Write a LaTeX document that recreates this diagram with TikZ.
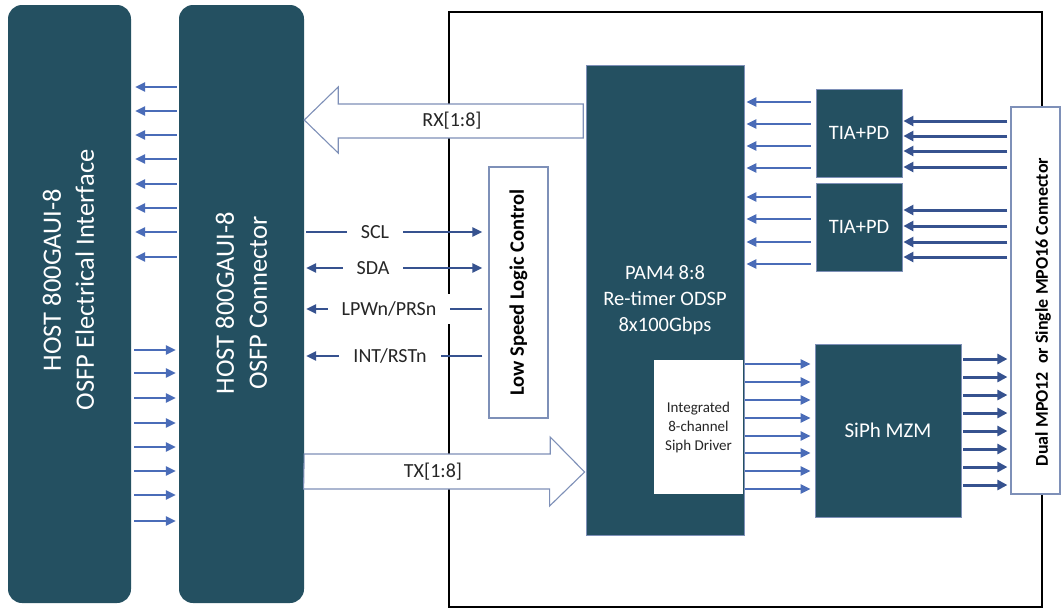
\documentclass[tikz,border=0pt]{standalone}
\usepackage{fontspec}
\setmainfont{Carlito}
\usetikzlibrary{arrows.meta}
\definecolor{blk}{HTML}{245061}
\definecolor{arr}{HTML}{4A6CB8}
\definecolor{arrd}{HTML}{36528F}
\definecolor{edge}{HTML}{7E90B8}
\begin{document}
\begin{tikzpicture}[x=1pt,y=-1pt,
  ctltip/.tip={Triangle[length=10pt,width=9pt]},
  hostblk/.style={fill=blk, rounded corners=14pt, inner sep=0pt},
  hosttxt/.style={text=white, rotate=90, align=center, inner sep=0pt,
    font=\fontsize{26.5}{33}\selectfont},
  darkblk/.style={fill=blk, draw=edge, line width=0.8pt, inner sep=0pt, text=white, align=center,
    font=\fontsize{20.5}{26}\selectfont},
  whiteblk/.style={fill=white, draw=edge, line width=1.2pt, inner sep=0pt, align=center},
  sarr/.style={draw=arr, line width=2.3pt, -{Triangle[length=10pt,width=9pt]}},
  darr/.style={draw=arrd, line width=3pt, -{Triangle[length=10pt,width=10pt]}},
  ctl/.style={draw=arrd, line width=2.3pt},
  lbl/.style={fill=white, inner xsep=14pt, inner ysep=8pt, font=\fontsize{20}{24}\selectfont, text=black!85},
  bigarrow/.style={draw=edge, fill=white, line width=1.1pt, line join=miter}
]
\useasboundingbox (0,0) rectangle (1062,611);
\fill[white] (0,0) rectangle (1062,611);

% frame
\draw[black, line width=2.2pt] (449,12) rectangle (1042,607);

% host blocks
\node[hostblk, minimum width=123pt, minimum height=598pt] (host) at (69.5,304) {};
\node[hosttxt] (hosttext) at (68.5,280) {HOST 800GAUI-8\\OSFP Electrical Interface};
\node[hostblk, minimum width=125pt, minimum height=598pt] (conn) at (241.5,304) {};
\node[hosttxt] (conntext) at (241.5,303) {HOST 800GAUI-8\\OSFP Connector};

% right-side blocks
\node[darkblk, minimum width=158pt, minimum height=470pt] (pam) at (665,300)
  {PAM4 8:8\\Re-timer ODSP\\8x100Gbps};
\node[fill=white, inner sep=0pt, minimum width=89pt, minimum height=134pt, align=center,
  font=\fontsize{15}{19}\selectfont, text=black!85] (drv) at (698.5,427)
  {Integrated\\8-channel\\Siph Driver};
\node[darkblk, minimum width=86pt, minimum height=88pt] (tia1) at (859,133) {TIA+PD};
\node[darkblk, minimum width=86pt, minimum height=88pt] (tia2) at (859,227) {TIA+PD};
\node[darkblk, minimum width=146pt, minimum height=173pt, font=\fontsize{21}{26}\selectfont] (mzm) at (888,430.5) {SiPh MZM};
\node[whiteblk, minimum width=49pt, minimum height=387pt] (mpo) at (1035.5,300.5) {};
\node[rotate=90, font=\bfseries\fontsize{18}{22}\selectfont] (mpotxt) at (1043,312)
  {Dual MPO12\ \ or Single MPO16 Connector};
\node[whiteblk, minimum width=59pt, minimum height=251pt] (lsl) at (518.5,292.5) {};
\node[rotate=90, font=\bfseries\fontsize{20.5}{24}\selectfont] (lsltxt) at (lsl.center) {Low Speed Logic Control};

% host <-> connector small arrows
\foreach \y in {87,111,135,159,184,208,232,257}{
  \coordinate (yy) at (0,\y);
  \draw[sarr, shorten >=4pt, shorten <=2pt] (conn.west |- yy) -- (host.east |- yy);
}
\foreach \y in {350,373,398,423,447,471,495,521}{
  \coordinate (yy) at (0,\y);
  \draw[sarr, shorten >=3pt, shorten <=3pt] (host.east |- yy) -- (conn.west |- yy);
}

% TIA -> PAM4
\foreach \y in {102,124,146,168}{
  \coordinate (yy) at (0,\y);
  \draw[sarr, shorten >=2pt, shorten <=5pt] (tia1.west |- yy) -- (pam.east |- yy);
}
\foreach \y in {197,219,242,264}{
  \coordinate (yy) at (0,\y);
  \draw[sarr, shorten >=2pt, shorten <=5pt] (tia2.west |- yy) -- (pam.east |- yy);
}
% MPO -> TIA
\foreach \y in {121,136,151,167}{
  \coordinate (yy) at (0,\y);
  \draw[darr, shorten >=1pt, shorten <=3pt] (mpo.west |- yy) -- (tia1.east |- yy);
}
\foreach \y in {210,226,242,257}{
  \coordinate (yy) at (0,\y);
  \draw[darr, shorten >=1pt, shorten <=3pt] (mpo.west |- yy) -- (tia2.east |- yy);
}
% driver -> MZM
\foreach \y in {364,382,400,418,436,453,471,489}{
  \coordinate (yy) at (0,\y);
  \draw[sarr, shorten >=4pt, shorten <=2pt] (drv.east |- yy) -- (mzm.west |- yy);
}
% MZM -> MPO
\foreach \y in {359,377,395,413,431,449,467,485}{
  \coordinate (yy) at (0,\y);
  \draw[darr, shorten >=3pt, shorten <=2pt] (mzm.east |- yy) -- (mpo.west |- yy);
}

% low speed control lines
\coordinate (ySCL) at (0,232);
\coordinate (ySDA) at (0,268);
\coordinate (yLPW) at (0,309);
\coordinate (yINT) at (0,356);
\draw[ctl, -{ctltip}, shorten <=2pt, shorten >=6pt] (conn.east |- ySCL) -- (lsl.west |- ySCL);
\draw[ctl, {ctltip}-{ctltip}, shorten <=2pt, shorten >=6pt] (conn.east |- ySDA) -- (lsl.west |- ySDA);
\draw[ctl, -{ctltip}, shorten <=6pt, shorten >=2pt] (lsl.west |- yLPW) -- (conn.east |- yLPW);
\draw[ctl, -{ctltip}, shorten <=6pt, shorten >=2pt] (lsl.west |- yINT) -- (conn.east |- yINT);
\node[lbl] (scl) at (375,232) {SCL};
\node[lbl] (sda) at (373,268) {SDA};
\node[lbl] (lpw) at (389,309) {LPWn/PRSn};
\node[lbl] (int) at (390,356) {INT/RSTn};

% big RX / TX arrows
\coordinate (yRX) at (0,120);
\coordinate (yTX) at (0,472);
\draw[bigarrow] (conn.east |- yRX) -- ++(34,-33) -- ++(0,17) -- ++(245,0) -- ++(0,34) -- ++(-245,0) -- ++(0,15) -- cycle;
\node[font=\fontsize{20}{24}\selectfont, text=black!85] (rx) at (452,121) {RX[1:8]};
\draw[bigarrow] (conn.east |- yTX) ++(0,-18) -- ++(246,0) -- ++(0,-17) -- ([xshift=-1pt]pam.west |- yTX) -- ++(-35,34) -- ++(0,-17) -- ++(-246,0) -- cycle;
\node[font=\fontsize{20}{24}\selectfont, text=black!85] (tx) at (433,472) {TX[1:8]};
\end{tikzpicture}
\end{document}
